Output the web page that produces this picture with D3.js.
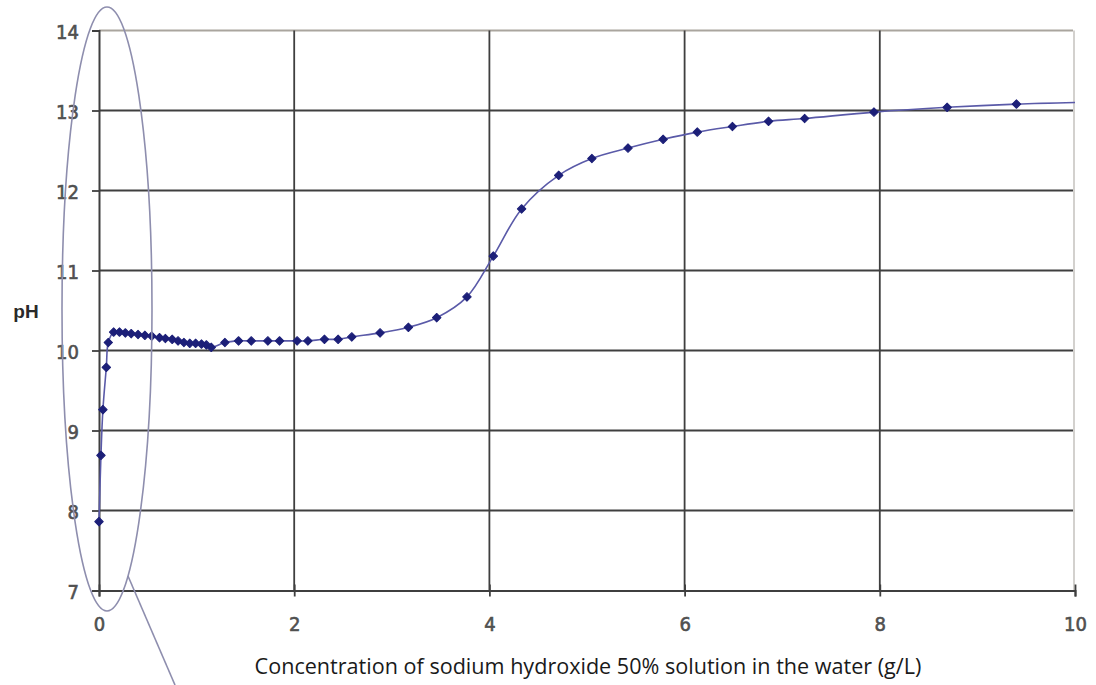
<!DOCTYPE html>
<html>
<head>
<meta charset="utf-8">
<script src="https://cdn.jsdelivr.net/npm/d3@7"></script>
<style>
  html, body { margin: 0; padding: 0; background: #fff; }
  svg { display: block; }
</style>
</head>
<body>
<svg id="chart" width="1096" height="685"></svg>
<script>
// ---- Data ----
const concentration = [0, 0.02, 0.04, 0.075, 0.095, 0.15, 0.21, 0.27, 0.33, 0.40, 0.47, 0.54, 0.62, 0.68, 0.75, 0.81, 0.87, 0.93, 0.99, 1.05, 1.10, 1.15,
  1.29, 1.43, 1.56, 1.73, 1.85, 2.03, 2.14, 2.31, 2.45, 2.59, 2.88, 3.17, 3.46, 3.77, 4.04, 4.33, 4.71, 5.05, 5.42, 5.78, 6.13, 6.49, 6.86, 7.23, 7.94, 8.69, 9.40, 10.0];
const phValues = [7.86, 8.69, 9.26, 9.79, 10.10, 10.23, 10.23, 10.22, 10.21, 10.20, 10.19, 10.18, 10.16, 10.15, 10.14, 10.12, 10.10, 10.09, 10.09, 10.08, 10.07, 10.04,
  10.10, 10.12, 10.12, 10.12, 10.12, 10.12, 10.12, 10.14, 10.14, 10.17, 10.22, 10.29, 10.41, 10.67, 11.18, 11.77, 12.19, 12.40, 12.53, 12.64, 12.73, 12.80, 12.865, 12.90, 12.98, 13.04, 13.08, 13.10];
const xTicks = [0, 2, 4, 6, 8, 10];
const yTicks = [7, 8, 9, 10, 11, 12, 13, 14];
const xTitle = "Concentration of sodium hydroxide 50% solution in the water (g/L)";
const yTitle = "pH";

(function () {
const points = concentration.map((c, i) => ({ x: c, y: phValues[i] }));
const markerPoints = points.slice(0, points.length - 1);

const svg = d3.select("#chart");
const pLeft = 99, pRight = 1075, pTop = 30.5, pBottom = 590.5;

const x = d3.scaleLinear().domain([0, 10]).range([pLeft, pRight]);
const y = d3.scaleLinear().domain([7, 14]).range([pBottom, pTop]);

// Grid
const grid = svg.append("g");
grid.selectAll("line.h").data(yTicks.filter(d => d > 7 && d < 14)).join("line")
  .attr("x1", pLeft).attr("x2", pRight - 2)
  .attr("y1", d => y(d)).attr("y2", d => y(d))
  .attr("stroke", "#3f3f3f").attr("stroke-width", 1.8);
grid.append("line").attr("x1", pLeft).attr("x2", pRight - 2).attr("y1", y(14)).attr("y2", y(14))
  .attr("stroke", "#aaa59e").attr("stroke-width", 1.8);
grid.selectAll("line.v").data(xTicks.filter(d => d > 0 && d < 10)).join("line")
  .attr("x1", d => x(d)).attr("x2", d => x(d))
  .attr("y1", pTop).attr("y2", pBottom)
  .attr("stroke", "#3f3f3f").attr("stroke-width", 1.8);
grid.append("line").attr("x1", x(10) - 1).attr("x2", x(10) - 1).attr("y1", pTop).attr("y2", pBottom)
  .attr("stroke", "#c8c6c2").attr("stroke-width", 1.6);

// Axes
const yAxis = d3.axisLeft(y).tickValues(yTicks).tickSize(7).tickPadding(13).tickFormat(d3.format("d"));
const xAxis = d3.axisBottom(x).tickValues(xTicks).tickSize(6).tickPadding(20).tickFormat(d3.format("d"));

const gy = svg.append("g").attr("transform", `translate(${pLeft},0)`).call(yAxis);
const gx = svg.append("g").attr("transform", `translate(0,${pBottom})`).call(xAxis);
[gx, gy].forEach(g => {
  g.attr("font-size", null).attr("font-family", null);
  g.select(".domain").attr("stroke", "#3f3f3f").attr("stroke-width", 2);
  g.selectAll(".tick line").attr("stroke", "#3f3f3f").attr("stroke-width", 1.8);
  g.selectAll(".tick text").attr("fill", "#505050")
    .attr("stroke", "#505050").attr("stroke-width", 0.6)
    .style("font-family", "'DejaVu Sans Condensed', 'Liberation Sans Narrow', 'Liberation Sans', sans-serif")
    .style("font-size", "20px");
});
gx.selectAll(".tick line").attr("y1", -6);
gy.selectAll(".tick text").attr("dy", "0.38em");

// Curve
const line = d3.line().x(d => x(d.x)).y(d => y(d.y)).curve(d3.curveCatmullRom.alpha(0.5));
svg.append("path").datum(points).attr("d", line)
  .attr("fill", "none").attr("stroke", "#5a5aa8").attr("stroke-width", 1.6);

// Markers (rounded diamonds)
svg.append("g").selectAll("path").data(markerPoints).join("path")
  .attr("transform", d => `translate(${x(d.x)},${y(d.y)}) rotate(45)`)
  .attr("d", d3.symbol(d3.symbolSquare, 36))
  .attr("fill", "#1c1f78").attr("stroke", "#1c1f78").attr("stroke-width", 1).attr("stroke-linejoin", "round");

// Titles
svg.append("text").attr("x", 26).attr("y", 318).attr("text-anchor", "middle")
  .style("font-family", "'Liberation Sans', Arial, sans-serif").attr("font-weight", "bold")
  .style("font-size", "19px").attr("fill", "#2a2a2a").text(yTitle);

const xt = svg.append("text").attr("x", 588).attr("y", 674).attr("text-anchor", "middle")
  .style("font-family", "'Open Sans', sans-serif").style("font-size", "18px")
  .attr("fill", "#1a1a1a").text(xTitle);
const w = xt.node().getComputedTextLength();
xt.style("font-size", (18 * 667 / w) + "px");

// Annotation ellipse and pointer
svg.append("ellipse").attr("cx", 107).attr("cy", 309).attr("rx", 45).attr("ry", 302)
  .attr("fill", "none").attr("stroke", "#8e8eae").attr("stroke-width", 1.6);
svg.append("line").attr("x1", 128).attr("y1", 576).attr("x2", 175).attr("y2", 685)
  .attr("stroke", "#8e8eae").attr("stroke-width", 1.6);
})();
</script>
</body>
</html>
